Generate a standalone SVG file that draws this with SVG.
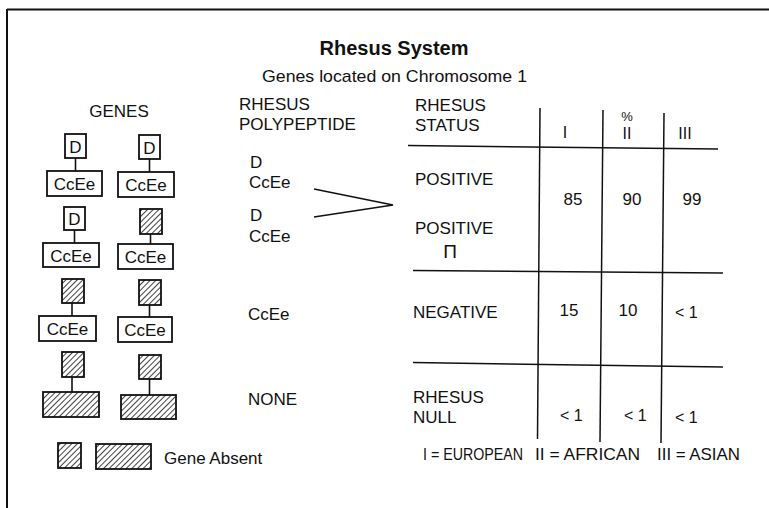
<svg xmlns="http://www.w3.org/2000/svg" width="769" height="508" viewBox="0 0 769 508">
<style>
text{font-family:"Liberation Sans",Arial,sans-serif;font-size:17px;fill:#111}
.c{text-anchor:middle}
.lt{font-size:16px}
.box{fill:#fff;stroke:#111;stroke-width:1.8}
.hb{fill:url(#hatch);stroke:#111;stroke-width:1.8}
.ln{stroke:#111;stroke-width:1.6;fill:none}
.tl{stroke:#111;stroke-width:1.5;fill:none}
</style>
<defs>
<pattern id="hatch" patternUnits="userSpaceOnUse" width="4" height="4" patternTransform="rotate(45)">
<rect width="4" height="4" fill="#fff"/>
<line x1="0" y1="0" x2="0" y2="4" stroke="#111" stroke-width="1.6"/>
</pattern>
</defs>
<rect width="769" height="508" fill="#fff"/>
<g id="frame" class="tl">
<line x1="7" y1="9.5" x2="769" y2="9.5" stroke-width="2"/>
<line x1="7" y1="9" x2="7" y2="508" stroke-width="2"/>
</g>
<g id="title">
<text x="394" y="55" class="c" style="font-weight:bold;font-size:20px">Rhesus System</text>
<text x="262" y="82" textLength="265" lengthAdjust="spacingAndGlyphs">Genes located on Chromosome  1</text>
</g>
<g id="genes-header"><text x="119" y="117" class="c">GENES</text></g>
<g id="connectors">
<line class="ln" x1="75.5" y1="158" x2="75.5" y2="171"/>
<line class="ln" x1="149.5" y1="159" x2="149.5" y2="172"/>
<line class="ln" x1="74.5" y1="230" x2="74.5" y2="243"/>
<line class="ln" x1="150.5" y1="234" x2="150.5" y2="244"/>
<line class="ln" x1="72" y1="303" x2="72" y2="316"/>
<line class="ln" x1="149.5" y1="305" x2="149.5" y2="317"/>
<line class="ln" x1="72" y1="377" x2="72" y2="392"/>
<line class="ln" x1="149.5" y1="379" x2="149.5" y2="395"/>
<polyline class="ln" points="314,189 393,205 314,217"/>
</g>
<g id="gene-L1"><rect class="box" x="65" y="134" width="21" height="24"/><text x="75.5" y="152.5" class="c">D</text><rect class="box" x="47" y="171" width="55" height="25"/><text x="74.5" y="190" class="c">CcEe</text></g>
<g id="gene-R1"><rect class="box" x="139" y="135" width="21" height="24"/><text x="149.5" y="153.5" class="c">D</text><rect class="box" x="118" y="172" width="56" height="25"/><text x="146" y="191" class="c">CcEe</text></g>
<g id="gene-L2"><rect class="box" x="64" y="207" width="21" height="23"/><text x="74.5" y="225" class="c">D</text><rect class="box" x="43" y="243" width="56" height="24"/><text x="71" y="261.5" class="c">CcEe</text></g>
<g id="gene-R2"><rect class="hb" x="140" y="209" width="22" height="25"/><rect class="box" x="118" y="244" width="55" height="25"/><text x="145.5" y="263" class="c">CcEe</text></g>
<g id="gene-L3"><rect class="hb" x="62" y="279" width="22" height="24"/><rect class="box" x="39" y="316" width="57" height="25"/><text x="67.5" y="335" class="c">CcEe</text></g>
<g id="gene-R3"><rect class="hb" x="139" y="280" width="22" height="25"/><rect class="box" x="118" y="317" width="54" height="25"/><text x="145" y="336" class="c">CcEe</text></g>
<g id="gene-L4"><rect class="hb" x="62" y="352" width="22" height="25"/><rect class="hb" x="43" y="392" width="56" height="25"/></g>
<g id="gene-R4"><rect class="hb" x="139" y="355" width="22" height="24"/><rect class="hb" x="121" y="395" width="55" height="24"/></g>
<g id="legend"><rect class="hb" x="58" y="443" width="23" height="25"/><rect class="hb" x="96" y="444" width="55" height="25"/><text x="164" y="464">Gene Absent</text></g>
<g id="polypeptide">
<text x="239" y="110">RHESUS</text>
<text x="239" y="130">POLYPEPTIDE</text>
<text x="250" y="168">D</text>
<text x="249" y="188">CcEe</text>
<text x="250" y="221">D</text>
<text x="249" y="241.5">CcEe</text>
<text x="248" y="320">CcEe</text>
<text x="248" y="405">NONE</text>
</g>
<g id="status-table">
<g class="tl">
<line x1="408" y1="145.5" x2="718" y2="149"/>
<line x1="413" y1="270.5" x2="723" y2="273"/>
<line x1="413" y1="362.5" x2="723" y2="367"/>
<line x1="540" y1="108" x2="537.5" y2="439"/>
<line x1="603" y1="110" x2="600" y2="442"/>
<line x1="664" y1="113" x2="661" y2="443"/>
</g>
<text x="415" y="110.5">RHESUS</text>
<text x="415" y="130.5">STATUS</text>
<text x="565" y="138" class="c lt">I</text>
<text x="627" y="120.5" class="c" style="font-size:13px">%</text>
<text x="627" y="138.5" class="c lt">II</text>
<text x="685" y="139" class="c lt">III</text>
<text x="415" y="185">POSITIVE</text>
<text x="415" y="234">POSITIVE</text>
<text x="450" y="258" class="c" style="font-size:19px">Π</text>
<text x="573" y="205" class="c">85</text>
<text x="632" y="205" class="c">90</text>
<text x="692" y="205" class="c">99</text>
<text x="413" y="317.5">NEGATIVE</text>
<text x="569" y="316" class="c">15</text>
<text x="628" y="316" class="c">10</text>
<text x="675" y="317.5" class="lt">&lt; 1</text>
<text x="413" y="402.5">RHESUS</text>
<text x="413" y="422.5">NULL</text>
<text x="560" y="421" class="lt">&lt; 1</text>
<text x="624" y="421" class="lt">&lt; 1</text>
<text x="675" y="422.5" class="lt">&lt; 1</text>
<text x="423" y="460" class="lt" textLength="100" lengthAdjust="spacingAndGlyphs">I = EUROPEAN</text>
<text x="535" y="460" textLength="105" lengthAdjust="spacingAndGlyphs">II = AFRICAN</text>
<text x="657" y="460" textLength="83" lengthAdjust="spacingAndGlyphs">III = ASIAN</text>
</g>
</svg>
